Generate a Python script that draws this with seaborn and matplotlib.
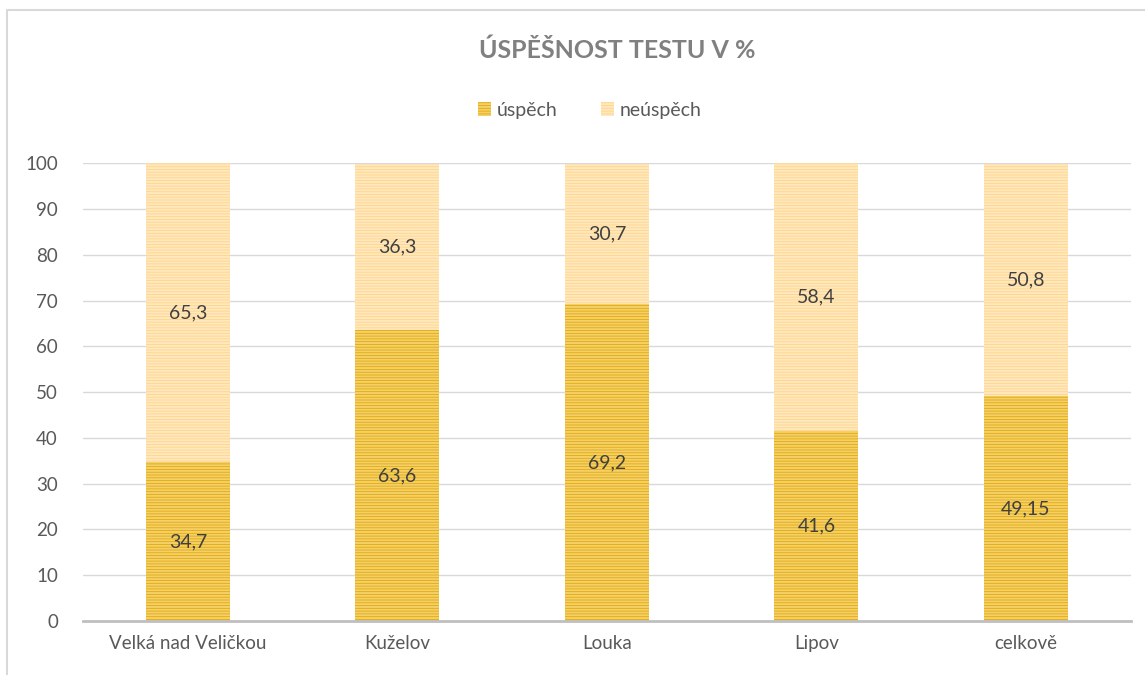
import matplotlib
matplotlib.use("Agg")
import matplotlib.pyplot as plt
import seaborn as sns
import pandas as pd
from matplotlib.patches import Patch
from matplotlib.lines import Line2D

categories = ["Velká nad Veličkou", "Kuželov", "Louka", "Lipov", "celkově"]
uspech = [34.7, 63.6, 69.2, 41.6, 49.15]
neuspech = [65.3, 36.3, 30.7, 58.4, 50.8]
yticks = list(range(0, 101, 10))

sns.set_style("white")
plt.rcParams["font.family"] = ["Lato", "DejaVu Sans"]
plt.rcParams["hatch.linewidth"] = 1.4

df = pd.DataFrame({"kategorie": categories, "uspech": uspech, "neuspech": neuspech})
df["celkem"] = df["uspech"] + df["neuspech"]

fig = plt.figure(figsize=(11.45, 6.75), dpi=100)
ax = fig.add_axes([0.0725, 0.08, 0.915, 0.678])

c_ok, c_ok_h = "#E2A80E", "#F4D168"
c_no, c_no_h = "#FFD48A", "#FFE8BE"

sns.barplot(data=df, x="kategorie", y="celkem", color=c_no, width=0.4, ax=ax,
            edgecolor=c_no_h, linewidth=0, hatch="------", saturation=1)
sns.barplot(data=df, x="kategorie", y="uspech", color=c_ok, width=0.4, ax=ax,
            edgecolor=c_ok_h, linewidth=0, hatch="------", saturation=1)

for i, (u, n) in enumerate(zip(uspech, neuspech)):
    ax.text(i, u / 2, f"{u:g}".replace(".", ","), ha="center", va="center",
            fontsize=14, color="#404040")
    ax.text(i, u + n / 2, f"{n:g}".replace(".", ","), ha="center", va="center",
            fontsize=14, color="#404040")

ax.set_ylim(0, 100)
ax.set_xlim(-0.5, 4.5)
ax.set_yticks(yticks)
ax.set_yticklabels([str(t) for t in yticks])
ax.grid(axis="y", color="#D9D9D9", linewidth=1)
ax.set_axisbelow(True)
for s in ["top", "right", "left"]:
    ax.spines[s].set_visible(False)
ax.spines["bottom"].set_color("#BFBFBF")
ax.spines["bottom"].set_linewidth(2)
ax.tick_params(axis="both", length=0, labelsize=13.5, labelcolor="#595959", pad=10)
ax.tick_params(axis="y", pad=18)
ax.set_xlabel("")
ax.set_ylabel("")

fig.text(0.539, 0.925, "ÚSPĚŠNOST TESTU V %", ha="center", va="center",
         fontsize=18, fontweight="bold", color="#808080")

handles = [Patch(facecolor=c_ok, edgecolor=c_ok_h, linewidth=0, hatch="------", label="úspěch"),
           Patch(facecolor=c_no, edgecolor=c_no_h, linewidth=0, hatch="------", label="neúspěch")]
fig.legend(handles=handles, loc="center", bbox_to_anchor=(0.515, 0.837), ncol=2, frameon=False,
           fontsize=14, labelcolor="#595959", handlelength=0.7, handleheight=0.7,
           handletextpad=0.3, columnspacing=2.2)

# chart border (only the top and left edges fall inside the picture)
fig.add_artist(Line2D([0.0065, 0.0065, 1.0], [0.0, 0.985, 0.985], transform=fig.transFigure,
                      color="#D9D9D9", linewidth=1.5))

fig.savefig("out.png", dpi=100)
